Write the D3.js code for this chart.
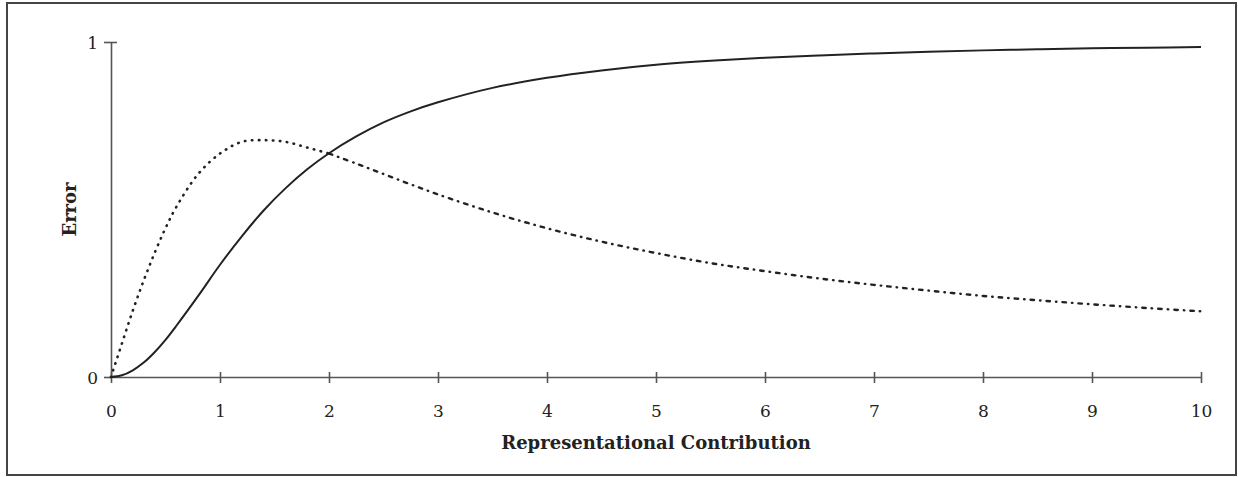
<!DOCTYPE html>
<html>
<head>
<meta charset="utf-8">
<script src="https://cdn.jsdelivr.net/npm/d3@7"></script>
<style>
  html, body { margin: 0; padding: 0; background: #fff; }
  svg { display: block; }
  text { font-family: "DejaVu Serif", "Liberation Serif", serif; fill: #222; }
</style>
</head>
<body>
<svg id="chart" width="1238" height="477"></svg>
<script>
// ---- data ----
const xValues = [0, 0.1, 0.2, 0.3, 0.4, 0.5, 0.6, 0.8, 1.0, 1.2, 1.4, 1.6, 1.8, 2.0, 2.25, 2.5, 2.75, 3, 3.5, 4, 4.5, 5, 5.5, 6, 6.5, 7, 7.5, 8, 8.5, 9, 9.5, 10];
const solidSeries = [0, 0.005, 0.02, 0.043, 0.074, 0.111, 0.153, 0.242, 0.335, 0.42, 0.497, 0.563, 0.62, 0.668, 0.718, 0.76, 0.793, 0.82, 0.863, 0.893, 0.915, 0.932, 0.944, 0.953, 0.96, 0.966, 0.971, 0.975, 0.978, 0.981, 0.983, 0.985];
const dottedSeries = [0, 0.1, 0.198, 0.288, 0.37, 0.444, 0.508, 0.606, 0.667, 0.702, 0.707, 0.702, 0.685, 0.667, 0.637, 0.606, 0.575, 0.545, 0.491, 0.444, 0.404, 0.37, 0.34, 0.316, 0.294, 0.275, 0.258, 0.242, 0.229, 0.217, 0.206, 0.196];
const xTicks = [0, 1, 2, 3, 4, 5, 6, 7, 8, 9, 10];
const yTicks = [0, 1];
const xTitle = "Representational Contribution";
const yTitle = "Error";

const svg = d3.select("#chart");

// frame
svg.append("rect")
  .attr("x", 7).attr("y", 3).attr("width", 1229).attr("height", 472)
  .attr("fill", "none").attr("stroke", "#444").attr("stroke-width", 2);

const x = d3.scaleLinear().domain([0, 10]).range([111, 1201]);
const y = d3.scaleLinear().domain([0, 1]).range([377, 42]);

const axisColor = "#555";

// x axis
const gx = svg.append("g").attr("transform", `translate(0,${y(0)})`)
  .call(d3.axisBottom(x).tickValues(xTicks).tickSize(0).tickPadding(0).tickFormat(""));
gx.select(".domain").attr("stroke", axisColor).attr("stroke-width", 1.6);
gx.selectAll(".tick").append("line")
  .attr("y1", -5).attr("y2", 6).attr("stroke", axisColor).attr("stroke-width", 1.6);
gx.selectAll(".tick").append("text")
  .attr("y", 40).attr("text-anchor", "middle")
  .style("font-size", "17px").attr("fill", "#222")
  .text(d => d);

// y axis
const gy = svg.append("g").attr("transform", `translate(${x(0)},0)`)
  .call(d3.axisLeft(y).tickValues(yTicks).tickSize(0).tickPadding(0).tickFormat(""));
gy.select(".domain").attr("stroke", axisColor).attr("stroke-width", 1.6);
gy.selectAll(".tick").append("line")
  .attr("x1", -7).attr("x2", d => d === 1 ? 6 : 0).attr("stroke", axisColor).attr("stroke-width", 1.6);
gy.selectAll(".tick").append("text")
  .attr("x", -13).attr("dy", "0.36em").attr("text-anchor", "end")
  .style("font-size", "17px").attr("fill", "#222")
  .text(d => d);

// titles
svg.append("text")
  .attr("x", x(5)).attr("y", 449).attr("text-anchor", "middle")
  .style("font-size", "18px").style("font-weight", "bold")
  .text(xTitle);
svg.append("text")
  .attr("transform", `translate(76,${(y(0) + y(1)) / 2}) rotate(-90)`)
  .attr("text-anchor", "middle")
  .style("font-size", "18px").style("font-weight", "bold")
  .text(yTitle);

// curves
const solidData = xValues.map((v, i) => [v, solidSeries[i]]);
const dottedData = xValues.map((v, i) => [v, dottedSeries[i]]);
const line = d3.line().x(d => x(d[0])).y(d => y(d[1])).curve(d3.curveCatmullRom.alpha(0.5));

svg.append("path").datum(solidData)
  .attr("d", line).attr("fill", "none").attr("stroke", "#222").attr("stroke-width", 2);

svg.append("path").datum(dottedData.filter(d => d[0] <= 2))
  .attr("d", line).attr("fill", "none").attr("stroke", "#222").attr("stroke-width", 2.6)
  .attr("stroke-linecap", "round")
  .attr("stroke-dasharray", "0.5,6.5");
svg.append("path").datum(dottedData.filter(d => d[0] >= 2))
  .attr("d", line).attr("fill", "none").attr("stroke", "#222").attr("stroke-width", 2.4)
  .attr("stroke-linecap", "round")
  .attr("stroke-dasharray", "3.5,6,0.5,6");
</script>
</body>
</html>
